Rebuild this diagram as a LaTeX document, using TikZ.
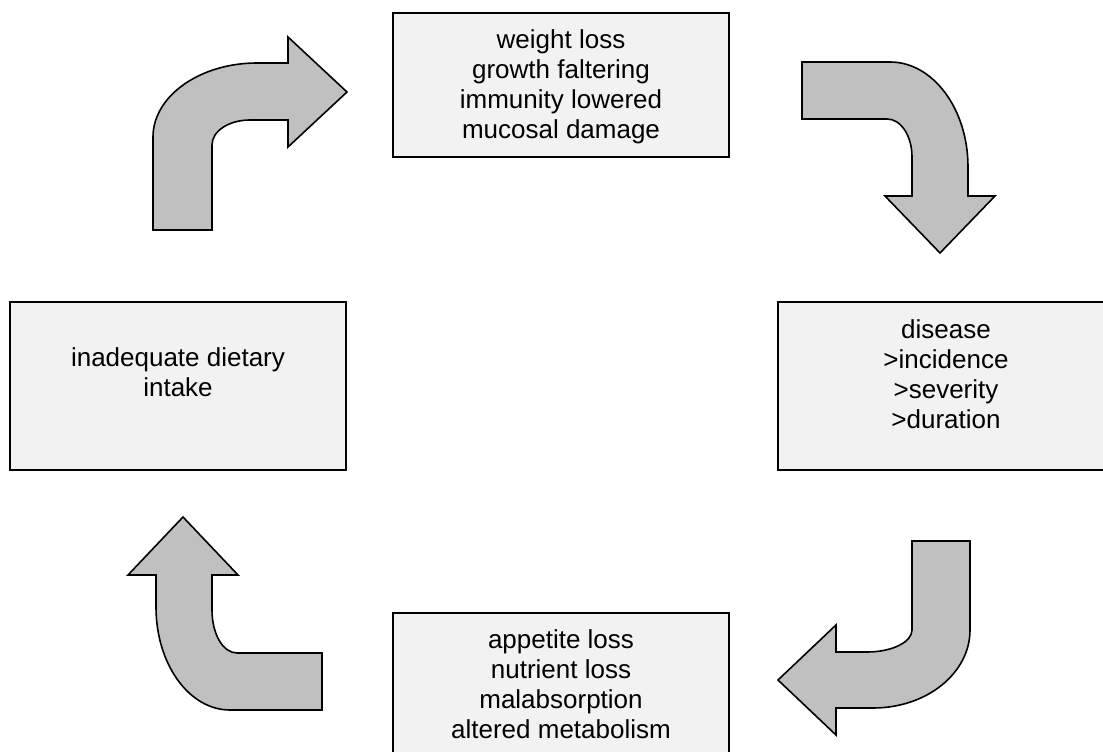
\documentclass[tikz,border=0pt]{standalone}
\usepackage{fontspec}
\setmainfont{Liberation Sans}
\usetikzlibrary{positioning}
\definecolor{boxgray}{HTML}{F2F2F2}
\definecolor{arrowgray}{HTML}{C0C0C0}
\begin{document}
\begin{tikzpicture}[x=0.75pt,y=-0.75pt,
        box/.style={draw,fill=boxgray,line width=1.5pt,minimum width=252pt,inner sep=0pt},
        boxtext/.style={align=center,inner sep=0pt,font=\fontsize{19.5}{22.5}\selectfont},
        bentarrow/.style={draw,fill=arrowgray,line width=1.2pt,line join=miter}]
        \useasboundingbox (0,0) rectangle (1103,752);
        \node[box,minimum height=108pt] (weightloss) at (561,85) {};
        \node[box,minimum height=126pt] (disease) at (946,386) {};
        \node[box,minimum height=108pt] (appetite) at (561,685) {};
        \node[box,minimum height=126pt] (intake) at (178,386) {};
        \node[boxtext,below=12.75pt of weightloss.north] (weightlosstext) {weight loss\\growth faltering\\immunity lowered\\mucosal damage};
        \node[boxtext,below=13.5pt of disease.north] (diseasetext) {disease\\>incidence\\>severity\\>duration};
        \node[boxtext,below=12.75pt of appetite.north] (appetitetext) {appetite loss\\nutrient loss\\malabsorption\\altered metabolism};
        \node[boxtext,below=34.5pt of intake.north] (intaketext) {inadequate dietary\\intake};
        \draw[bentarrow] (153,230) -- (153,137) .. controls (153,96) and (200,63) .. (257,63) -- (288,63) -- (288,37)
            -- (347,92) -- (288,147) -- (288,120) -- (250,120) .. controls (229,120) and (212,131) .. (212,145) -- (212,230) -- cycle;
        \draw[bentarrow] (802,62) -- (890,62) .. controls (933,62) and (968,109) .. (968,167) -- (968,196) -- (995,196)
            -- (940,253) -- (885,196) -- (912,196) -- (912,157) .. controls (912,136) and (901,119) .. (887,119) -- (802,119) -- cycle;
        \draw[bentarrow] (912,541) -- (970,541) -- (970,630) .. controls (970,673) and (927,708) .. (873,708) -- (836,708) -- (836,735)
            -- (778,680) -- (836,625) -- (836,652) -- (867,652) .. controls (892,652) and (912,642) .. (912,630) -- cycle;
        \draw[bentarrow] (322,653) -- (322,710) -- (230,710) .. controls (189,710) and (156,664) .. (156,607) -- (156,575) -- (128,575)
            -- (183,517) -- (238,575) -- (212,575) -- (212,610) .. controls (212,634) and (223,653) .. (237,653) -- cycle;
    \end{tikzpicture}
\end{document}
